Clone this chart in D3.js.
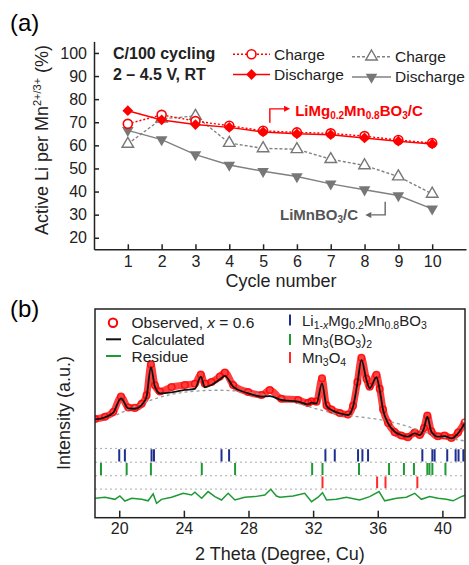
<!DOCTYPE html>
<html>
<head>
<meta charset="utf-8">
<script src="https://cdn.jsdelivr.net/npm/d3@7"></script>
<style>
body { margin: 0; background: #fff; }
svg { font-family: "Liberation Sans", Arial, sans-serif; }
</style>
</head>
<body>
<svg id="fig" width="469" height="565"></svg>
<script>
// (a) cycling data
const cycles = [1, 2, 3, 4, 5, 6, 7, 8, 9, 10];
const yTicksA = [20, 30, 40, 50, 60, 70, 80, 90, 100];
const mgCharge = [69.3, 73.2, 70.5, 68.5, 66.3, 65.6, 65.2, 64.0, 62.3, 61.0];
const mgDischarge = [75.0, 71.0, 69.0, 67.8, 65.8, 65.0, 64.6, 63.2, 61.8, 60.6];
const mnCharge = [60.6, 71.5, 72.7, 61.0, 58.7, 58.3, 54.0, 51.3, 46.5, 39.0];
const mnDischarge = [66.5, 62.5, 56.0, 51.5, 48.8, 46.5, 43.3, 40.8, 38.3, 32.5];

// (b) XRD refinement data
const thetaTicks = [20, 24, 28, 32, 36, 40];
const xrdAngle = [18.50, 19.12, 19.63, 20.11, 20.56, 20.97, 21.39, 21.69, 21.96, 22.21, 22.52, 23.24, 24.06, 24.68, 25.05, 25.30, 25.71, 26.23, 26.54, 27.05, 27.98, 28.81, 29.32, 30.04, 31.07, 31.69, 31.90, 32.21, 32.55, 32.83, 33.14, 33.65, 34.16, 34.47, 34.74, 34.99, 35.30, 35.50, 35.92, 36.12, 36.33, 36.64, 37.05, 37.46, 37.87, 38.29, 38.60, 38.86, 39.07, 39.32, 39.73, 40.14, 40.56, 40.97, 41.38];
const xrdObserved = [47.3, 48.4, 50.6, 58.0, 52.8, 52.6, 54.6, 58.6, 73.5, 63.5, 60.5, 62.6, 63.6, 64.2, 68.6, 64.2, 65.0, 67.6, 69.6, 63.6, 60.2, 58.8, 61.2, 57.0, 56.4, 55.0, 55.8, 55.6, 66.8, 53.8, 51.8, 50.2, 49.4, 53.6, 65.0, 76.6, 66.6, 62.8, 68.5, 61.8, 51.8, 45.4, 41.0, 39.4, 38.6, 40.8, 39.6, 43.0, 49.0, 41.4, 39.0, 39.4, 38.2, 40.8, 45.6];
const xrdCalculated = [47.1, 48.1, 50.3, 57.2, 52.4, 52.2, 54.0, 58.0, 72.1, 62.8, 59.6, 60.1, 61.2, 61.7, 67.6, 62.5, 63.6, 66.3, 68.0, 62.8, 59.6, 58.0, 58.3, 56.4, 55.6, 54.3, 55.1, 54.8, 64.4, 53.5, 51.6, 50.0, 49.2, 53.2, 64.4, 75.6, 66.0, 62.0, 67.3, 61.2, 51.6, 45.2, 41.2, 39.6, 38.8, 40.4, 39.6, 42.8, 48.4, 41.2, 38.8, 39.1, 38.0, 40.4, 45.2];
const bgAngle = [19.84, 20.66, 21.59, 22.64, 23.75, 24.99, 26.23, 27.46, 28.70, 29.94, 31.18, 32.41, 33.65, 34.89, 36.12, 37.36, 38.60, 39.84, 41.38];
const bgValue = [49.2, 52.3, 55.4, 58.1, 60.0, 60.9, 61.2, 60.7, 59.3, 57.4, 54.5, 51.6, 49.4, 48.3, 47.1, 45.1, 41.8, 38.7, 36.8];
const resAngle = [18.50, 19.12, 19.73, 20.04, 20.35, 20.77, 21.39, 21.79, 22.10, 22.31, 22.62, 23.24, 23.96, 24.48, 24.68, 25.10, 25.50, 25.92, 26.33, 26.74, 27.16, 27.77, 28.39, 29.01, 29.38, 29.73, 29.94, 30.76, 31.48, 31.90, 32.31, 32.58, 32.83, 33.44, 34.06, 34.88, 35.50, 36.08, 36.43, 37.16, 37.77, 38.29, 38.70, 39.21, 39.73, 40.25, 40.66, 41.17, 41.48];
const resValue = [9.3, 9.8, 8.8, 10.4, 8.0, 9.3, 8.8, 8.1, 11.4, 6.9, 8.8, 9.8, 11.7, 10.9, 12.2, 9.3, 12.5, 10.1, 8.5, 11.7, 8.5, 9.8, 10.1, 10.9, 13.6, 10.4, 9.8, 10.4, 11.7, 7.7, 9.8, 12.0, 8.5, 8.8, 9.8, 8.5, 10.1, 12.5, 8.1, 9.3, 9.8, 11.7, 8.8, 10.1, 9.3, 8.8, 8.1, 10.1, 10.9];
const peaksLiMgMnBO3 = [20.0, 20.35, 22.0, 22.15, 26.33, 26.8, 32.76, 33.34, 34.78, 35.05, 35.4, 38.76, 39.38, 39.52, 40.3, 40.82, 41.0, 41.3];
const peaksMn3BO32 = [18.87, 20.46, 21.96, 25.11, 27.17, 31.94, 32.58, 34.84, 36.7, 37.62, 38.24, 39.07, 39.2, 39.38, 40.19];
const peaksMn3O4 = [32.58, 35.96, 36.48, 38.45];

const RED = "#ff0000";
const GRAY = "#808080";
const BLUE = "#1f2f8f";
const GREEN = "#1e9a34";
const AXIS = "#222";

const svg = d3.select("#fig");

// rich text: parts = [[text, "sub"|"sup"|"it"|"subit"|""]]
function richText(g, x, y, parts, size, small, attrs = {}) {
	const t = g.append("text").attr("x", x).attr("y", y).attr("font-size", size);
	Object.entries(attrs).forEach(([k, v]) => t.attr(k, v));
	let shift = 0;
	parts.forEach(([str, kind]) => {
		kind = kind || "";
		const target = kind.startsWith("sub") ? small * 0.3 : kind === "sup" ? -small * 0.65 : 0;
		const ts = t.append("tspan").text(str).attr("dy", target - shift);
		if (target !== 0) ts.attr("font-size", small);
		if (kind.endsWith("it")) ts.attr("font-style", "italic");
		shift = target;
	});
	return t;
}

/////////////////////////////////////////////////////////////////
// panel (a)
const xA = d3.scaleLinear().domain([0, 11]).range([94, 466]);
const yA = d3.scaleLinear().domain([15, 105]).range([249.3, 41.4]);
const gA = svg.append("g");

svg.append("text").attr("x", 10).attr("y", 31).attr("font-size", 24).text("(a)");

gA.append("g")
	.attr("transform", `translate(${xA(0)},0)`)
	.call(d3.axisLeft(yA).tickValues(yTicksA).tickSizeInner(-5).tickSizeOuter(0).tickPadding(7))
	.call(g => g.selectAll("text").attr("font-size", 16).attr("font-family", null).attr("fill", AXIS))
	.call(g => g.selectAll("path,line").attr("stroke", AXIS).attr("stroke-width", 1.5));

gA.append("g")
	.attr("transform", `translate(0,${yA(15)})`)
	.call(d3.axisBottom(xA).tickValues(cycles).tickSizeInner(-5).tickSizeOuter(0).tickPadding(6.5))
	.call(g => g.selectAll("text").attr("font-size", 16).attr("font-family", null).attr("fill", AXIS))
	.call(g => g.selectAll("path,line").attr("stroke", AXIS).attr("stroke-width", 1.5));

gA.append("text")
	.attr("x", 281).attr("y", 287)
	.attr("text-anchor", "middle").attr("font-size", 18).attr("fill", AXIS)
	.text("Cycle number");

richText(gA, 0, 0, [["Active Li per Mn", ""], ["2+/3+", "sup"], [" (%)", ""]], 18, 11,
	{ "transform": "translate(48,140) rotate(-90)", "text-anchor": "middle", "fill": AXIS });

const lineA = d3.line().x((d, i) => xA(cycles[i])).y(d => yA(d));
const triUp = d3.symbol().type(d3.symbolTriangle).size(58);
const diamond = d3.symbol().type(d3.symbolSquare).size(58);

function drawSeries(values, color, dash, markerFn) {
	gA.append("path").datum(values)
		.attr("fill", "none").attr("stroke", color).attr("stroke-width", 1.4)
		.attr("stroke-dasharray", dash)
		.attr("d", lineA);
	gA.selectAll(null).data(values).join(g => markerFn(g));
}

// LiMnBO3/C
drawSeries(mnCharge, GRAY, "3,2", sel => sel.append("path")
	.attr("d", triUp())
	.attr("transform", (d, i) => `translate(${xA(cycles[i])},${yA(d)})`)
	.attr("fill", "#fff").attr("stroke", "#777").attr("stroke-width", 1.4));
drawSeries(mnDischarge, GRAY, null, sel => sel.append("path")
	.attr("d", triUp())
	.attr("transform", (d, i) => `translate(${xA(cycles[i])},${yA(d)}) rotate(180)`)
	.attr("fill", "#777"));
// LiMg0.2Mn0.8BO3/C
drawSeries(mgCharge, RED, "2,2", sel => sel.append("circle")
	.attr("cx", (d, i) => xA(cycles[i])).attr("cy", d => yA(d)).attr("r", 4.5)
	.attr("fill", "#fff").attr("stroke", RED).attr("stroke-width", 1.6));
drawSeries(mgDischarge, RED, null, sel => sel.append("path")
	.attr("d", diamond())
	.attr("transform", (d, i) => `translate(${xA(cycles[i])},${yA(d)}) rotate(45)`)
	.attr("fill", RED));

// annotations
gA.append("path")
	.attr("d", `M${xA(5.2)},${yA(69.8)}V${yA(75.8)}H${xA(5.62)}`)
	.attr("fill", "none").attr("stroke", RED).attr("stroke-width", 1.4);
gA.append("path")
	.attr("d", `M${xA(5.62)},${yA(75.8) - 3}l6,3l-6,3z`)
	.attr("fill", RED);
richText(gA, xA(5.95), yA(72.6), [["LiMg", ""], ["0.2", "sub"], ["Mn", ""], ["0.8", "sub"], ["BO", ""], ["3", "sub"], ["/C", ""]], 15, 10,
	{ "fill": RED, "font-weight": "bold" });

gA.append("path")
	.attr("d", `M${xA(8.61)},${yA(35.6)}V${yA(29.9)}H${xA(8.2)}`)
	.attr("fill", "none").attr("stroke", "#666").attr("stroke-width", 1.4);
gA.append("path")
	.attr("d", `M${xA(8.2)},${yA(29.9) - 3}l-6,3l6,3z`)
	.attr("fill", "#666");
richText(gA, xA(5.5), yA(27.7), [["LiMnBO", ""], ["3", "sub"], ["/C", ""]], 15, 10,
	{ "fill": "#555", "font-weight": "bold" });

// legend (a)
gA.append("text").attr("x", 113).attr("y", 59).attr("font-size", 16).attr("font-weight", "bold").attr("fill", AXIS).text("C/100 cycling");
gA.append("text").attr("x", 113).attr("y", 80).attr("font-size", 16).attr("font-weight", "bold").attr("fill", AXIS).text("2 \u2013 4.5 V, RT");

const legA = [
	{ x0: 233, x1: 270, y: 54.3, color: RED, dash: "2,2", label: "Charge", ty: 59.5, marker: "circle" },
	{ x0: 233, x1: 270, y: 74.5, color: RED, dash: null, label: "Discharge", ty: 80, marker: "diamond" },
	{ x0: 352, x1: 391, y: 56.7, color: GRAY, dash: "3,2", label: "Charge", ty: 62, marker: "up" },
	{ x0: 352, x1: 391, y: 77, color: GRAY, dash: null, label: "Discharge", ty: 82, marker: "down" }
];
legA.forEach(l => {
	gA.append("line").attr("x1", l.x0).attr("x2", l.x1).attr("y1", l.y).attr("y2", l.y)
		.attr("stroke", l.color).attr("stroke-width", 1.4).attr("stroke-dasharray", l.dash);
	const cx = (l.x0 + l.x1) / 2;
	if (l.marker === "circle") {
		gA.append("circle").attr("cx", cx).attr("cy", l.y).attr("r", 4.5)
			.attr("fill", "#fff").attr("stroke", RED).attr("stroke-width", 1.6);
	} else if (l.marker === "diamond") {
		gA.append("path").attr("d", diamond()).attr("transform", `translate(${cx},${l.y}) rotate(45)`).attr("fill", RED);
	} else if (l.marker === "up") {
		gA.append("path").attr("d", triUp()).attr("transform", `translate(${cx},${l.y})`)
			.attr("fill", "#fff").attr("stroke", "#777").attr("stroke-width", 1.4);
	} else {
		gA.append("path").attr("d", triUp()).attr("transform", `translate(${cx},${l.y}) rotate(180)`).attr("fill", "#777");
	}
	gA.append("text").attr("x", l.x1 + 4).attr("y", l.ty).attr("font-size", 15.5).attr("fill", AXIS).text(l.label);
});

/////////////////////////////////////////////////////////////////
// panel (b)
const xB = d3.scaleLinear().domain([18.5, 41.4]).range([95, 465]);
const yB = d3.scaleLinear().domain([0, 100]).range([517.7, 309]);
const gB = svg.append("g");

svg.append("text").attr("x", 10).attr("y", 317).attr("font-size", 24).text("(b)");

gB.append("defs").append("clipPath").attr("id", "clipB")
	.append("rect").attr("x", 95).attr("y", 309).attr("width", 370).attr("height", 208.7);
const plotB = gB.append("g").attr("clip-path", "url(#clipB)");

// reflection rows
const rowLevels = [33.2, 26.6, 20.1, 13.7];
plotB.selectAll(".rowline").data(rowLevels).join("line")
	.attr("x1", 95).attr("x2", 465)
	.attr("y1", d => yB(d)).attr("y2", d => yB(d))
	.attr("stroke", "#aaa").attr("stroke-width", 1).attr("stroke-dasharray", "2,3");

[[peaksLiMgMnBO3, BLUE, 0], [peaksMn3BO32, GREEN, 1], [peaksMn3O4, "#ff2a2a", 2]].forEach(([peaks, color, row]) => {
	plotB.selectAll(null).data(peaks).join("line")
		.attr("x1", d => xB(d)).attr("x2", d => xB(d))
		.attr("y1", yB(rowLevels[row]) + 0.8).attr("y2", yB(rowLevels[row + 1]) - 0.8)
		.attr("stroke", color).attr("stroke-width", 2);
});

// residue
plotB.append("path").datum(resValue)
	.attr("fill", "none").attr("stroke", GREEN).attr("stroke-width", 1.5)
	.attr("d", d3.line().x((d, i) => xB(resAngle[i])).y(d => yB(d)));

// observed
const obsLine = d3.line().x((d, i) => xB(xrdAngle[i])).y(d => yB(d)).curve(d3.curveMonotoneX);
plotB.append("path").datum(xrdObserved)
	.attr("fill", "none").attr("stroke", RED).attr("stroke-opacity", 0.75)
	.attr("stroke-width", 7).attr("stroke-linejoin", "round")
	.attr("d", obsLine);
plotB.selectAll(".obs").data(xrdObserved).join("circle")
	.attr("cx", (d, i) => xB(xrdAngle[i])).attr("cy", d => yB(d)).attr("r", 3.3)
	.attr("fill", "none").attr("stroke", RED).attr("stroke-opacity", 0.8).attr("stroke-width", 1.5);

// background
plotB.append("path").datum(bgValue)
	.attr("fill", "none").attr("stroke", "#999").attr("stroke-width", 1.3).attr("stroke-dasharray", "3,3")
	.attr("d", d3.line().x((d, i) => xB(bgAngle[i])).y(d => yB(d)).curve(d3.curveBasis));

// calculated
plotB.append("path").datum(xrdCalculated)
	.attr("fill", "none").attr("stroke", "#111").attr("stroke-width", 1.8)
	.attr("d", d3.line().x((d, i) => xB(xrdAngle[i])).y(d => yB(d)).curve(d3.curveMonotoneX));

// frame + axis
gB.append("rect").attr("x", 95).attr("y", 309).attr("width", 370).attr("height", 208.7)
	.attr("fill", "none").attr("stroke", AXIS).attr("stroke-width", 1.5);
gB.append("g")
	.attr("transform", `translate(0,${yB(0)})`)
	.call(d3.axisBottom(xB).tickValues(thetaTicks).tickSizeInner(-7).tickSizeOuter(0).tickPadding(5))
	.call(g => g.select(".domain").remove())
	.call(g => g.selectAll("text").attr("font-size", 16).attr("font-family", null).attr("fill", AXIS))
	.call(g => g.selectAll("line").attr("stroke", AXIS).attr("stroke-width", 1.5));

gB.append("text")
	.attr("x", 280).attr("y", 560)
	.attr("text-anchor", "middle").attr("font-size", 18).attr("fill", AXIS)
	.text("2 Theta (Degree, Cu)");
gB.append("text")
	.attr("transform", "translate(70,413) rotate(-90)")
	.attr("text-anchor", "middle").attr("font-size", 18).attr("fill", AXIS)
	.text("Intensity (a.u.)");

// legend (b)
gB.append("circle").attr("cx", 113).attr("cy", 322.7).attr("r", 4.2)
	.attr("fill", "none").attr("stroke", RED).attr("stroke-width", 2);
richText(gB, 131.5, 328, [["Observed, ", ""], ["x", "it"], [" = 0.6", ""]], 15.5, 11, { "fill": AXIS });
gB.append("line").attr("x1", 106).attr("x2", 121).attr("y1", 339.3).attr("y2", 339.3).attr("stroke", "#111").attr("stroke-width", 2);
gB.append("text").attr("x", 131.5).attr("y", 345).attr("font-size", 15.5).attr("fill", AXIS).text("Calculated");
gB.append("line").attr("x1", 106).attr("x2", 121).attr("y1", 356).attr("y2", 356).attr("stroke", GREEN).attr("stroke-width", 2);
gB.append("text").attr("x", 131.5).attr("y", 362).attr("font-size", 15.5).attr("fill", AXIS).text("Residue");

const legB = [
	{ color: BLUE, y0: 313.5, parts: [["Li", ""], ["1-", "sub"], ["x", "subit"], ["Mg", ""], ["0.2", "sub"], ["Mn", ""], ["0.8", "sub"], ["BO", ""], ["3", "sub"]] },
	{ color: GREEN, y0: 333, parts: [["Mn", ""], ["3", "sub"], ["(BO", ""], ["3", "sub"], [")", ""], ["2", "sub"]] },
	{ color: "#ff2a2a", y0: 351, parts: [["Mn", ""], ["3", "sub"], ["O", ""], ["4", "sub"]] }
];
legB.forEach(l => {
	gB.append("line").attr("x1", 290).attr("x2", 290).attr("y1", l.y0 + 1).attr("y2", l.y0 + 12)
		.attr("stroke", l.color).attr("stroke-width", 2);
	richText(gB, 302, l.y0 + 12, l.parts, 15, 10.5, { "fill": AXIS });
});
</script>
</body>
</html>
